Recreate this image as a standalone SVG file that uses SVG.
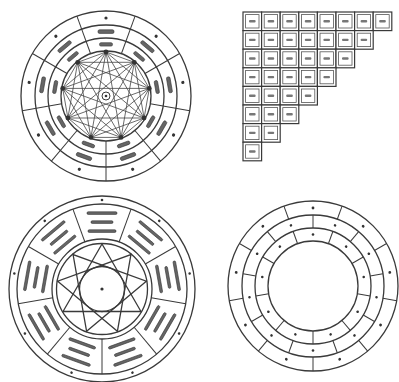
<svg xmlns="http://www.w3.org/2000/svg" xmlns:xlink="http://www.w3.org/1999/xlink" width="399" height="382" viewBox="0 0 399 382">
<style>
.c{fill:none;stroke:#3a3a3a;stroke-width:1.3}
.t{fill:none;stroke:#3a3a3a;stroke-width:1}
.e{fill:none;stroke:#444;stroke-width:0.8}
.d{fill:#333}
.b{fill:#666;stroke:#333;stroke-width:0.6}
.cellO{fill:#fff;stroke:#3a3a3a;stroke-width:1.2}
.cellI{fill:none;stroke:#555;stroke-width:0.8}
</style>
<defs>
<line id="tlDiv" x1="106" y1="11" x2="106" y2="51" class="t"/>
<circle id="tlDot" cx="106" cy="18" r="1.6" class="d"/>
<g id="tlBlobs">
<rect x="98" y="29.8" width="16" height="3.6" rx="1.5" class="b"/>
<rect x="99.5" y="42.7" width="13" height="3.4" rx="1.5" class="b"/>
</g>
<line id="blDiv" x1="102" y1="204" x2="102" y2="239" class="t"/>
<circle id="blDot" cx="102" cy="200" r="1.3" class="d"/>
<g id="blBlobs">
<rect x="87" y="211.8" width="30" height="2.6" rx="1.2" class="b"/>
<rect x="91" y="220.8" width="22" height="2.6" rx="1.2" class="b"/>
<rect x="88" y="229.8" width="28" height="2.6" rx="1.2" class="b"/>
</g>
<line id="brDivO" x1="313" y1="201" x2="313" y2="215" class="t"/>
<line id="brDivM" x1="313" y1="215" x2="313" y2="228" class="t"/>
<line id="brDivI" x1="313" y1="228" x2="313" y2="241" class="t"/>
<circle id="brDotO" cx="313" cy="208" r="1.4" class="d"/>
<circle id="brDotM" cx="313" cy="221.5" r="1.3" class="d"/>
<circle id="brDotI" cx="313" cy="234.5" r="1.3" class="d"/>
<g id="cell">
<rect x="0" y="0" width="18.6" height="18.6" class="cellO"/>
<rect x="2.6" y="2.6" width="13.4" height="13.4" class="cellI"/>
<rect x="6" y="8.1" width="6.6" height="2.4" rx="1" fill="#777"/>
</g>
</defs>
<rect width="399" height="382" fill="#fff"/>

<!-- Top-left wheel with complete graph -->
<g id="wheel-graph">
<circle cx="106" cy="96" r="85" class="c"/>
<circle cx="106" cy="96" r="71" class="c"/>
<circle cx="106" cy="96" r="58" class="c"/>
<circle cx="106" cy="96" r="45" class="c"/>
<g id="tl-dividers">
<use xlink:href="#tlDiv" transform="rotate(20 106 96)"/>
<use xlink:href="#tlDiv" transform="rotate(60 106 96)"/>
<use xlink:href="#tlDiv" transform="rotate(100 106 96)"/>
<use xlink:href="#tlDiv" transform="rotate(140 106 96)"/>
<use xlink:href="#tlDiv" transform="rotate(180 106 96)"/>
<use xlink:href="#tlDiv" transform="rotate(220 106 96)"/>
<use xlink:href="#tlDiv" transform="rotate(260 106 96)"/>
<use xlink:href="#tlDiv" transform="rotate(300 106 96)"/>
<use xlink:href="#tlDiv" transform="rotate(340 106 96)"/>
</g>
<g id="tl-dots">
<use xlink:href="#tlDot"/>
<use xlink:href="#tlDot" transform="rotate(40 106 96)"/>
<use xlink:href="#tlDot" transform="rotate(80 106 96)"/>
<use xlink:href="#tlDot" transform="rotate(120 106 96)"/>
<use xlink:href="#tlDot" transform="rotate(160 106 96)"/>
<use xlink:href="#tlDot" transform="rotate(200 106 96)"/>
<use xlink:href="#tlDot" transform="rotate(240 106 96)"/>
<use xlink:href="#tlDot" transform="rotate(280 106 96)"/>
<use xlink:href="#tlDot" transform="rotate(320 106 96)"/>
</g>
<g id="tl-labels">
<use xlink:href="#tlBlobs"/>
<use xlink:href="#tlBlobs" transform="rotate(40 106 96)"/>
<use xlink:href="#tlBlobs" transform="rotate(80 106 96)"/>
<use xlink:href="#tlBlobs" transform="rotate(120 106 96)"/>
<use xlink:href="#tlBlobs" transform="rotate(160 106 96)"/>
<use xlink:href="#tlBlobs" transform="rotate(200 106 96)"/>
<use xlink:href="#tlBlobs" transform="rotate(240 106 96)"/>
<use xlink:href="#tlBlobs" transform="rotate(280 106 96)"/>
<use xlink:href="#tlBlobs" transform="rotate(320 106 96)"/>
</g>
<g id="tl-edges">
<path class="e" d="M106 52L134.3 62.3M106 52L149.3 88.4M106 52L144.1 118M106 52L121.1 137.4M106 52L90.9 137.4M106 52L67.9 118M106 52L62.7 88.4M106 52L77.7 62.3
M134.3 62.3L149.3 88.4M134.3 62.3L144.1 118M134.3 62.3L121.1 137.4M134.3 62.3L90.9 137.4M134.3 62.3L67.9 118M134.3 62.3L62.7 88.4M134.3 62.3L77.7 62.3
M149.3 88.4L144.1 118M149.3 88.4L121.1 137.4M149.3 88.4L90.9 137.4M149.3 88.4L67.9 118M149.3 88.4L62.7 88.4M149.3 88.4L77.7 62.3
M144.1 118L121.1 137.4M144.1 118L90.9 137.4M144.1 118L67.9 118M144.1 118L62.7 88.4M144.1 118L77.7 62.3
M121.1 137.4L90.9 137.4M121.1 137.4L67.9 118M121.1 137.4L62.7 88.4M121.1 137.4L77.7 62.3
M90.9 137.4L67.9 118M90.9 137.4L62.7 88.4M90.9 137.4L77.7 62.3
M67.9 118L62.7 88.4M67.9 118L77.7 62.3
M62.7 88.4L77.7 62.3"/>
</g>
<g id="tl-nodes" class="d">
<circle cx="106" cy="52" r="2.4"/>
<circle cx="134.3" cy="62.3" r="2.4"/>
<circle cx="149.3" cy="88.4" r="2.4"/>
<circle cx="144.1" cy="118" r="2.4"/>
<circle cx="121.1" cy="137.4" r="2.4"/>
<circle cx="90.9" cy="137.4" r="2.4"/>
<circle cx="67.9" cy="118" r="2.4"/>
<circle cx="62.7" cy="88.4" r="2.4"/>
<circle cx="77.7" cy="62.3" r="2.4"/>
</g>
<circle cx="106" cy="96" r="4" fill="#fff" stroke="#3a3a3a" stroke-width="1"/>
<circle cx="106" cy="96" r="1.3" class="d"/>
</g>

<!-- Top-right triangular table -->
<g id="table">
<use xlink:href="#cell" x="243" y="12"/><use xlink:href="#cell" x="261.6" y="12"/><use xlink:href="#cell" x="280.2" y="12"/><use xlink:href="#cell" x="298.8" y="12"/><use xlink:href="#cell" x="317.4" y="12"/><use xlink:href="#cell" x="336" y="12"/><use xlink:href="#cell" x="354.6" y="12"/><use xlink:href="#cell" x="373.2" y="12"/>
<use xlink:href="#cell" x="243" y="30.6"/><use xlink:href="#cell" x="261.6" y="30.6"/><use xlink:href="#cell" x="280.2" y="30.6"/><use xlink:href="#cell" x="298.8" y="30.6"/><use xlink:href="#cell" x="317.4" y="30.6"/><use xlink:href="#cell" x="336" y="30.6"/><use xlink:href="#cell" x="354.6" y="30.6"/>
<use xlink:href="#cell" x="243" y="49.2"/><use xlink:href="#cell" x="261.6" y="49.2"/><use xlink:href="#cell" x="280.2" y="49.2"/><use xlink:href="#cell" x="298.8" y="49.2"/><use xlink:href="#cell" x="317.4" y="49.2"/><use xlink:href="#cell" x="336" y="49.2"/>
<use xlink:href="#cell" x="243" y="67.8"/><use xlink:href="#cell" x="261.6" y="67.8"/><use xlink:href="#cell" x="280.2" y="67.8"/><use xlink:href="#cell" x="298.8" y="67.8"/><use xlink:href="#cell" x="317.4" y="67.8"/>
<use xlink:href="#cell" x="243" y="86.4"/><use xlink:href="#cell" x="261.6" y="86.4"/><use xlink:href="#cell" x="280.2" y="86.4"/><use xlink:href="#cell" x="298.8" y="86.4"/>
<use xlink:href="#cell" x="243" y="105"/><use xlink:href="#cell" x="261.6" y="105"/><use xlink:href="#cell" x="280.2" y="105"/>
<use xlink:href="#cell" x="243" y="123.6"/><use xlink:href="#cell" x="261.6" y="123.6"/>
<use xlink:href="#cell" x="243" y="142.2"/>
</g>

<!-- Bottom-left wheel with nine-pointed star -->
<g id="wheel-star">
<circle cx="102" cy="289" r="93" class="c"/>
<circle cx="102" cy="289" r="85" class="c"/>
<circle cx="102" cy="289" r="50" class="c"/>
<circle cx="102" cy="289" r="45.5" class="c"/>
<circle cx="102" cy="289" r="22.5" class="c"/>
<circle cx="102" cy="289" r="1.6" class="d"/>
<g id="bl-dividers">
<use xlink:href="#blDiv" transform="rotate(20 102 289)"/>
<use xlink:href="#blDiv" transform="rotate(60 102 289)"/>
<use xlink:href="#blDiv" transform="rotate(100 102 289)"/>
<use xlink:href="#blDiv" transform="rotate(140 102 289)"/>
<use xlink:href="#blDiv" transform="rotate(180 102 289)"/>
<use xlink:href="#blDiv" transform="rotate(220 102 289)"/>
<use xlink:href="#blDiv" transform="rotate(260 102 289)"/>
<use xlink:href="#blDiv" transform="rotate(300 102 289)"/>
<use xlink:href="#blDiv" transform="rotate(340 102 289)"/>
</g>
<g id="bl-dots">
<use xlink:href="#blDot"/>
<use xlink:href="#blDot" transform="rotate(40 102 289)"/>
<use xlink:href="#blDot" transform="rotate(80 102 289)"/>
<use xlink:href="#blDot" transform="rotate(120 102 289)"/>
<use xlink:href="#blDot" transform="rotate(160 102 289)"/>
<use xlink:href="#blDot" transform="rotate(200 102 289)"/>
<use xlink:href="#blDot" transform="rotate(240 102 289)"/>
<use xlink:href="#blDot" transform="rotate(280 102 289)"/>
<use xlink:href="#blDot" transform="rotate(320 102 289)"/>
</g>
<g id="bl-labels">
<use xlink:href="#blBlobs"/>
<use xlink:href="#blBlobs" transform="rotate(40 102 289)"/>
<use xlink:href="#blBlobs" transform="rotate(80 102 289)"/>
<use xlink:href="#blBlobs" transform="rotate(120 102 289)"/>
<use xlink:href="#blBlobs" transform="rotate(160 102 289)"/>
<use xlink:href="#blBlobs" transform="rotate(200 102 289)"/>
<use xlink:href="#blBlobs" transform="rotate(240 102 289)"/>
<use xlink:href="#blBlobs" transform="rotate(280 102 289)"/>
<use xlink:href="#blBlobs" transform="rotate(320 102 289)"/>
</g>
<g id="bl-star" class="c">
<polygon points="102,244 140.97,311.5 63.03,311.5"/>
<polygon points="130.93,254.53 117.39,331.29 57.68,281.19"/>
<polygon points="146.32,281.19 86.61,331.29 73.07,254.53"/>
</g>
</g>

<!-- Bottom-right ring wheel -->
<g id="wheel-rings">
<circle cx="313" cy="286" r="85" class="c"/>
<circle cx="313" cy="286" r="71" class="c"/>
<circle cx="313" cy="286" r="58" class="c"/>
<circle cx="313" cy="286" r="45" class="c"/>
<g id="br-dividers">
<use xlink:href="#brDivO" transform="rotate(20 313 286)"/><use xlink:href="#brDivO" transform="rotate(60 313 286)"/><use xlink:href="#brDivO" transform="rotate(100 313 286)"/><use xlink:href="#brDivO" transform="rotate(140 313 286)"/><use xlink:href="#brDivO" transform="rotate(180 313 286)"/><use xlink:href="#brDivO" transform="rotate(220 313 286)"/><use xlink:href="#brDivO" transform="rotate(260 313 286)"/><use xlink:href="#brDivO" transform="rotate(300 313 286)"/><use xlink:href="#brDivO" transform="rotate(340 313 286)"/>
<use xlink:href="#brDivM"/><use xlink:href="#brDivM" transform="rotate(40 313 286)"/><use xlink:href="#brDivM" transform="rotate(80 313 286)"/><use xlink:href="#brDivM" transform="rotate(120 313 286)"/><use xlink:href="#brDivM" transform="rotate(160 313 286)"/><use xlink:href="#brDivM" transform="rotate(200 313 286)"/><use xlink:href="#brDivM" transform="rotate(240 313 286)"/><use xlink:href="#brDivM" transform="rotate(280 313 286)"/><use xlink:href="#brDivM" transform="rotate(320 313 286)"/>
<use xlink:href="#brDivI" transform="rotate(20 313 286)"/><use xlink:href="#brDivI" transform="rotate(60 313 286)"/><use xlink:href="#brDivI" transform="rotate(100 313 286)"/><use xlink:href="#brDivI" transform="rotate(140 313 286)"/><use xlink:href="#brDivI" transform="rotate(180 313 286)"/><use xlink:href="#brDivI" transform="rotate(220 313 286)"/><use xlink:href="#brDivI" transform="rotate(260 313 286)"/><use xlink:href="#brDivI" transform="rotate(300 313 286)"/><use xlink:href="#brDivI" transform="rotate(340 313 286)"/>
</g>
<g id="br-dots">
<use xlink:href="#brDotO"/><use xlink:href="#brDotO" transform="rotate(40 313 286)"/><use xlink:href="#brDotO" transform="rotate(80 313 286)"/><use xlink:href="#brDotO" transform="rotate(120 313 286)"/><use xlink:href="#brDotO" transform="rotate(160 313 286)"/><use xlink:href="#brDotO" transform="rotate(200 313 286)"/><use xlink:href="#brDotO" transform="rotate(240 313 286)"/><use xlink:href="#brDotO" transform="rotate(280 313 286)"/><use xlink:href="#brDotO" transform="rotate(320 313 286)"/>
<use xlink:href="#brDotM" transform="rotate(20 313 286)"/><use xlink:href="#brDotM" transform="rotate(60 313 286)"/><use xlink:href="#brDotM" transform="rotate(100 313 286)"/><use xlink:href="#brDotM" transform="rotate(140 313 286)"/><use xlink:href="#brDotM" transform="rotate(180 313 286)"/><use xlink:href="#brDotM" transform="rotate(220 313 286)"/><use xlink:href="#brDotM" transform="rotate(260 313 286)"/><use xlink:href="#brDotM" transform="rotate(300 313 286)"/><use xlink:href="#brDotM" transform="rotate(340 313 286)"/>
<use xlink:href="#brDotI"/><use xlink:href="#brDotI" transform="rotate(40 313 286)"/><use xlink:href="#brDotI" transform="rotate(80 313 286)"/><use xlink:href="#brDotI" transform="rotate(120 313 286)"/><use xlink:href="#brDotI" transform="rotate(160 313 286)"/><use xlink:href="#brDotI" transform="rotate(200 313 286)"/><use xlink:href="#brDotI" transform="rotate(240 313 286)"/><use xlink:href="#brDotI" transform="rotate(280 313 286)"/><use xlink:href="#brDotI" transform="rotate(320 313 286)"/>
</g>
</g>
</svg>
